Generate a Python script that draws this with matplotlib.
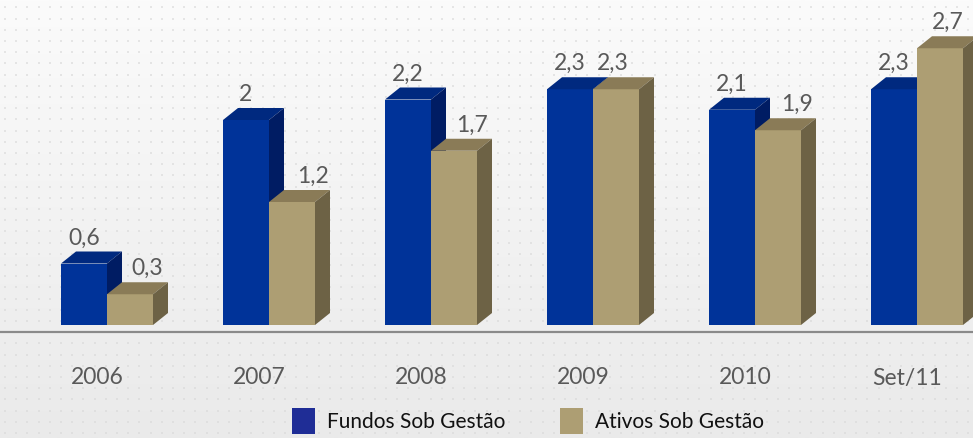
import numpy as np
import matplotlib.pyplot as plt
from matplotlib.patches import Polygon, Rectangle

categories = ["2006", "2007", "2008", "2009", "2010", "Set/11"]
fundos = [0.6, 2.0, 2.2, 2.3, 2.1, 2.3]
ativos = [0.3, 1.2, 1.7, 2.3, 1.9, 2.7]
series_names = ["Fundos Sob Gestão", "Ativos Sob Gestão"]

plt.rcParams['font.family'] = ['Lato', 'DejaVu Sans']

W, H = 973, 438
fig = plt.figure(figsize=(W / 100, H / 100), dpi=100)
ax = fig.add_axes([0, 0, 1, 1])

# pixel -> data mapping
step_px = 162.0
unit_px = 102.5
x0_px = 107.0          # front-face centre of first group
base_px = 113.0        # baseline, from bottom
ax.set_xlim((0 - x0_px) / step_px, (W - x0_px) / step_px)
ax.set_ylim(-base_px / unit_px, (H - base_px) / unit_px)
ax.axis("off")

# background: soft gradient + dot grid
grad = np.linspace(0, 1, 200).reshape(-1, 1)
ax.imshow(grad, extent=[*ax.get_xlim(), *ax.get_ylim()], aspect="auto",
          cmap=plt.matplotlib.colors.LinearSegmentedColormap.from_list(
              "bg", ["#eaeaea", "#fbfbfb"]), origin="lower", zorder=0)
gx = np.arange(5, W, 11.2)
gy = np.arange(5, H, 11.2)
GX, GY = np.meshgrid(gx, gy)
ax.scatter((GX.ravel() - x0_px) / step_px, (GY.ravel() - base_px) / unit_px,
           s=4, marker="s", color="#d8d8d8", alpha=0.6, linewidths=0, zorder=0.5)

bw = 46 / step_px
dx = 15 / step_px
dy = 12 / unit_px

styles = [
    dict(front="#003399", top="#00297f", side="#001c63"),
    dict(front="#ad9e73", top="#8a7b57", side="#6d6245"),
]

# floor line
ax.plot(ax.get_xlim(), [-7 / unit_px] * 2, color="#8a8a8a", lw=1.6, zorder=1)

def bar3d(x, h, st, z):
    ax.add_patch(Rectangle((x, 0), bw, h, facecolor=st["front"], edgecolor="none", zorder=z))
    ax.add_patch(Polygon([(x, h), (x + bw, h), (x + bw + dx, h + dy), (x + dx, h + dy)],
                         closed=True, facecolor=st["top"], edgecolor="none", zorder=z))
    ax.add_patch(Polygon([(x + bw, 0), (x + bw + dx, dy), (x + bw + dx, h + dy), (x + bw, h)],
                         closed=True, facecolor=st["side"], edgecolor="none", zorder=z))

label_kw = dict(ha="center", va="bottom", fontsize=16.5, color="#595959")
tan_shift = [17, 21, 18, -3, 19, 8]   # label nudges in px

z = 2
for i, cat in enumerate(categories):
    xb = i - bw
    xt = i
    bar3d(xb, fundos[i], styles[0], z)
    z += 1
    bar3d(xt, ativos[i], styles[1], z)
    z += 1
    ax.text(xb + bw / 2, fundos[i] + dy + 3 / unit_px, f"{fundos[i]:g}".replace(".", ","),
            zorder=50, **label_kw)
    ax.text(xt + bw / 2 + tan_shift[i] / step_px, ativos[i] + dy + 3 / unit_px,
            f"{ativos[i]:g}".replace(".", ","), zorder=50, **label_kw)
    ax.text(i - 10 / step_px, -(378 - (H - base_px)) / unit_px,
            cat, ha="center", va="center", fontsize=16.5, color="#595959", zorder=50)

# legend
handles = [Rectangle((0, 0), 1, 1, facecolor="#1f2d96", edgecolor="none"),
           Rectangle((0, 0), 1, 1, facecolor=styles[1]["front"], edgecolor="none")]
fig.legend(handles, series_names, loc="center", bbox_to_anchor=(528 / W, 1 - 421 / H),
           ncol=2, frameon=False, fontsize=15, handlelength=1.1, handleheight=1.5,
           handletextpad=0.6, columnspacing=2.6, labelcolor="#111111")

fig.savefig("out.png", dpi=100)
